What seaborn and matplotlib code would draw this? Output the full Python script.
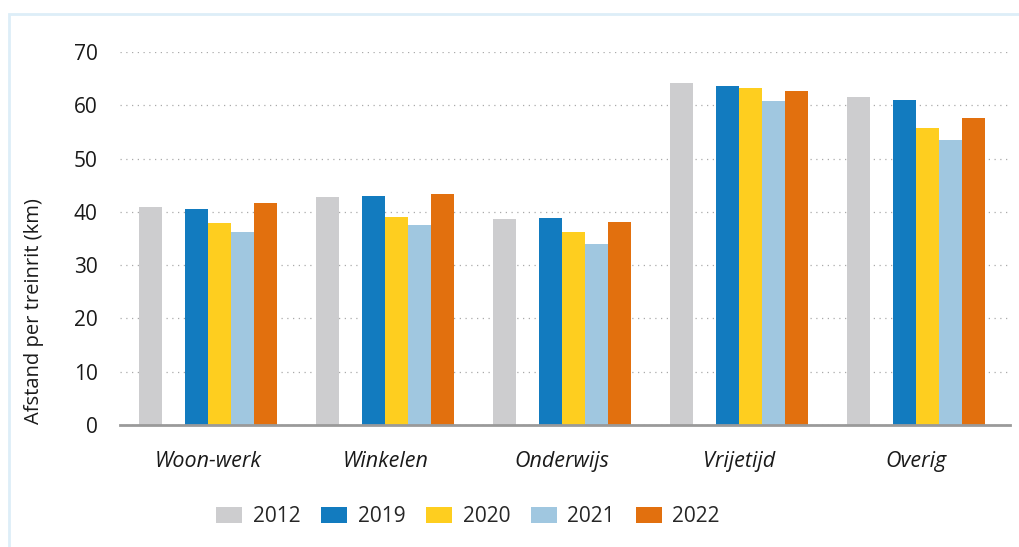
import matplotlib
matplotlib.use("Agg")
import matplotlib.pyplot as plt
from matplotlib.patches import Patch, Rectangle
import pandas as pd
import seaborn as sns

categories = ["Woon-werk", "Winkelen", "Onderwijs", "Vrijetijd", "Overig"]
years = ["2012", "2019", "2020", "2021", "2022"]
v2012 = [41.0, 42.7, 38.6, 64.2, 61.6]
v2019 = [40.6, 42.9, 38.8, 63.6, 61.0]
v2020 = [38.0, 39.1, 36.2, 63.2, 55.8]
v2021 = [36.3, 37.6, 34.0, 60.8, 53.5]
v2022 = [41.6, 43.3, 38.1, 62.7, 57.6]
yticks = [0, 10, 20, 30, 40, 50, 60, 70]

colors = {"2012": "#cdcdcf", "gap": "white", "2019": "#127bbf",
          "2020": "#fece1f", "2021": "#a0c7e0", "2022": "#e2700e"}

rows = []
for yr, vals in zip(years, [v2012, v2019, v2020, v2021, v2022]):
    for cat, v in zip(categories, vals):
        rows.append({"cat": cat, "year": yr, "val": v})
df = pd.DataFrame(rows)

sns.set_style("white")
plt.rcParams["font.family"] = ["Open Sans", "DejaVu Sans"]

W, H = 1019, 547
fig = plt.figure(figsize=(W / 100, H / 100), dpi=100)
ax = fig.add_axes([120 / W, 1 - 425 / H, 890 / W, 373 / H])

# an empty hue level keeps the gap between 2012 and 2019
sns.barplot(data=df, x="cat", y="val", hue="year", order=categories,
            hue_order=["2012", "gap", "2019", "2020", "2021", "2022"],
            palette=colors, width=0.78, errorbar=None, legend=False,
            saturation=1, linewidth=0, edgecolor="none", ax=ax, zorder=2)

ax.set_xlim(-0.5, 4.53)
ax.set_ylim(0, 70)
ax.set_yticks(yticks)
ax.yaxis.grid(True, color="#aaaaaa", linestyle=(0, (1, 3.6)), linewidth=0.9)
ax.set_axisbelow(True)
ax.xaxis.grid(False)
for s in ["top", "right", "left"]:
    ax.spines[s].set_visible(False)
ax.spines["bottom"].set_color("#9a9a9a")
ax.spines["bottom"].set_linewidth(2)
ax.spines["bottom"].set_zorder(3)
ax.tick_params(axis="y", length=0, pad=16, labelsize=15, labelcolor="#1a1a1a")
ax.tick_params(axis="x", length=0, pad=19, labelsize=15.5, labelcolor="#1a1a1a")
for lab in ax.get_xticklabels():
    lab.set_fontstyle("italic")
ax.set_xlabel("")
ax.set_ylabel("")

fig.text(34 / W, 1 - 424 / H, "Afstand per treinrit (km)", rotation=90,
         ha="center", va="bottom", fontsize=14.5, color="#1a1a1a")

handles = [Patch(facecolor=colors[y], edgecolor="none", label=y) for y in years]
fig.legend(handles=handles, loc="center", bbox_to_anchor=(468 / W, 1 - 517 / H),
           ncol=5, frameon=False, handlelength=1.25, handleheight=0.8,
           handletextpad=0.5, columnspacing=1.0,
           prop={"size": 15})

fig.patches.append(Rectangle((9 / W, -0.1), 1.2, 1.1 - 14 / H, transform=fig.transFigure,
                             fill=False, edgecolor="#ddeef8", linewidth=2))

fig.savefig("out.png", dpi=100)
